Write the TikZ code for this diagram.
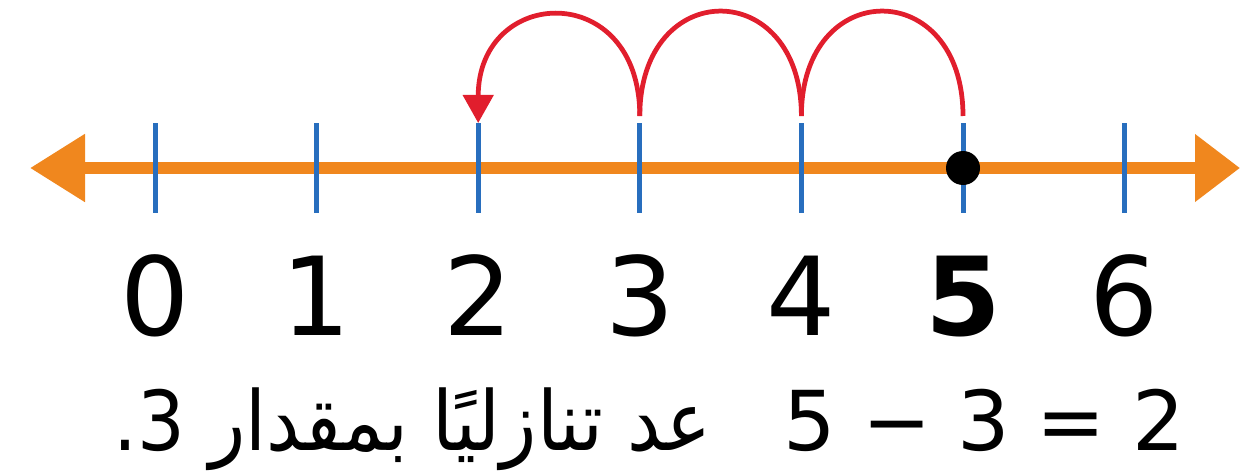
\documentclass[tikz,border=0pt]{standalone}
\usepackage{fontspec}
\setmainfont{DejaVu Sans}
\newfontfamily\arabicfont[Script=Arabic,FakeStretch=0.91]{DejaVu Sans}
\TeXXeTstate=1
\usetikzlibrary{arrows.meta}
\definecolor{lineorange}{RGB}{240,135,30}
\definecolor{tickblue}{RGB}{40,110,190}
\definecolor{hopred}{RGB}{225,30,45}

\begin{document}
\begin{tikzpicture}[x=0.2mm, y=0.2mm,
  numlbl/.style={anchor=base, inner sep=0pt, font=\fontsize{62}{62}\selectfont},
  eqlbl/.style={anchor=base east, inner sep=0pt, font=\fontsize{47}{47}\selectfont},
  hop/.style={hopred, line width=0.95mm}]
\useasboundingbox (0,0) rectangle (1241,475);
\coordinate (axl) at (30,307);
\coordinate (axr) at (1240,307);
\draw[lineorange, line width=2.4mm, {Triangle[length=11mm,width=13mm]}-{Triangle[length=9mm,width=13mm]}] (axl) -- (axr);
\foreach \n in {0,...,6}{
  \coordinate (t\n) at (155+161.6*\n,352);
  \coordinate (b\n) at (155+161.6*\n,262);
  \coordinate (h\n) at (155+161.6*\n,359);
  \draw[tickblue, line width=1mm] (t\n) -- (b\n);
  \node[numlbl] (n\n) at (155+161.6*\n,140) {\ifnum\n=5 \bfseries\fi\n};
}
\fill (155+161.6*5,307) circle[radius=3.4mm];
\draw[hop] (h5) to[out=90,in=90,looseness=2.22] (h4);
\draw[hop] (h4) to[out=90,in=90,looseness=2.22] (h3);
\draw[hop,-{Triangle[length=5.6mm,width=6mm]}] (h3) to[out=90,in=90,looseness=2.17] (t2);
\node[eqlbl] (eq) at (1185,25) {5 − 3 = 2};
\node[eqlbl] (txt) at (712,25) {\arabicfont\beginR عد تنازليًا بمقدار 3.\endR};
\end{tikzpicture}
\end{document}
